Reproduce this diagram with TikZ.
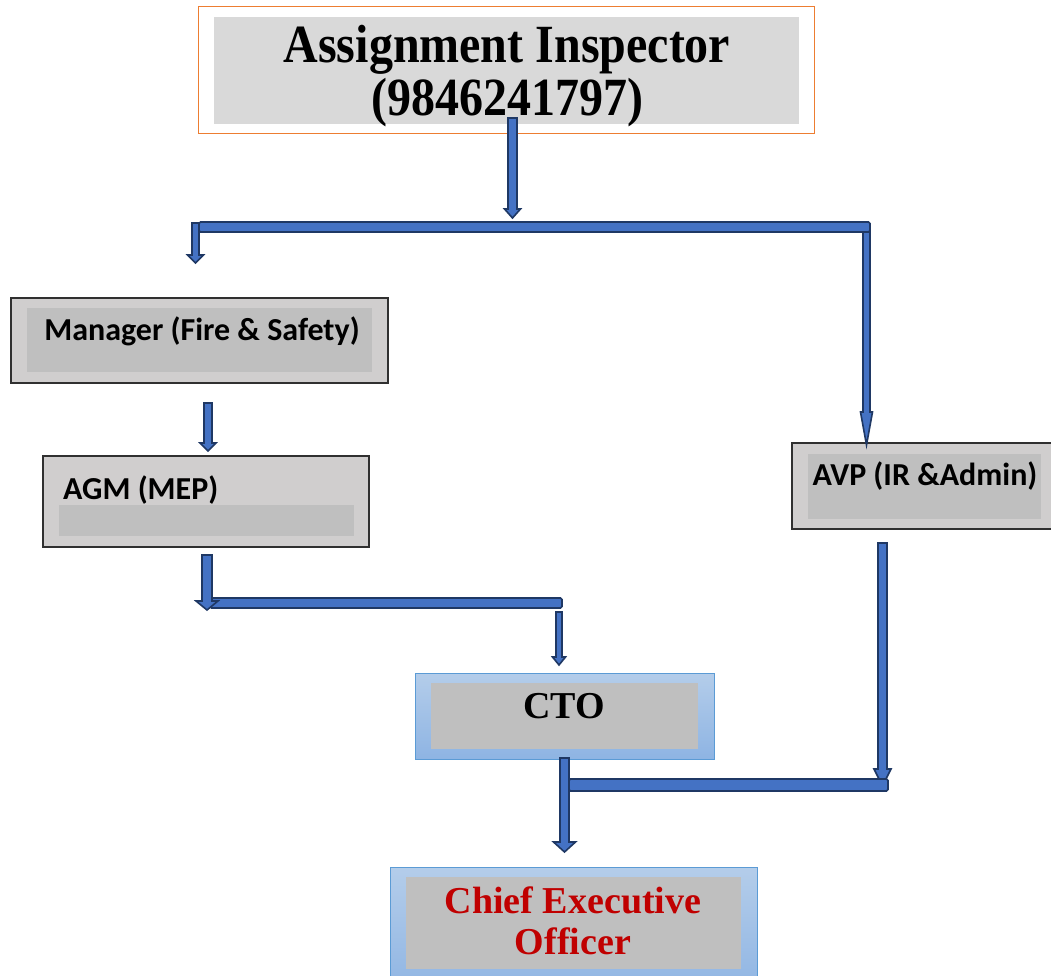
\documentclass[tikz,border=0pt]{standalone}
\usepackage{fontspec}
\setmainfont{Liberation Serif}
\newfontfamily\calfont{Carlito}
\usetikzlibrary{calc}
\definecolor{arrfill}{HTML}{4472C4}
\definecolor{arrline}{HTML}{1F3864}
\definecolor{boxfill}{HTML}{D0CECE}
\definecolor{boxline}{HTML}{303030}
\definecolor{innerfill}{HTML}{BFBFBF}
\definecolor{topinner}{HTML}{D9D9D9}
\definecolor{orangeline}{HTML}{ED7D31}
\definecolor{blueTop}{HTML}{B4CDEA}
\definecolor{blueBot}{HTML}{8EB4E3}
\definecolor{blueline}{HTML}{5B9BD5}
\definecolor{ceored}{HTML}{C00000}
\tikzset{
  arrowblk/.style={fill=arrfill, draw=arrline, line width=1.6pt, line join=miter},
  barblk/.style={fill=arrfill, draw=arrline, line width=1.6pt, rounded corners=1.5pt},
  graybox/.style={draw=boxline, line width=1.2pt, fill=boxfill, inner sep=0pt},
  innergray/.style={fill=innerfill, inner sep=0pt},
  bluebox/.style={draw=blueline, line width=1pt, top color=blueTop, bottom color=blueBot, inner sep=0pt},
  serifbig/.style={font=\fontsize{48}{52}\selectfont\bfseries, inner sep=0pt},
  serifmid/.style={font=\fontsize{38}{41}\selectfont\bfseries, inner sep=0pt},
  sanslab/.style={font=\calfont\fontsize{32}{36}\selectfont\bfseries, inner sep=0pt},
}
\newcommand\vblk[5]{%
  \filldraw[arrowblk] let \p1=(#1), \p2=(#2) in
   ({\x1-#3pt/2},\y1) -- ({\x1+#3pt/2},\y1) -- ({\x1+#3pt/2},{\y2+#5pt}) --
   ({\x1+#4pt/2},{\y2+#5pt}) -- (\x1,\y2) -- ({\x1-#4pt/2},{\y2+#5pt}) --
   ({\x1-#3pt/2},{\y2+#5pt}) -- cycle;}
\begin{document}
\begin{tikzpicture}[x=1pt,y=-1pt]
\useasboundingbox (0,0) rectangle (1051,976);
\clip (0,0) rectangle (1051,976);
% top box
\node[draw=orangeline, line width=1pt, minimum width=616pt, minimum height=127pt, inner sep=0pt] (topout) at (506,70.5) {};
\node[fill=topinner, minimum width=585pt, minimum height=107pt, inner sep=0pt] (topin) at (506.5,70.5) {};
\node[serifbig, anchor=base] (topl1) at (507,63) {\scalebox{1}[1.12]{Assignment Inspector}};
\node[serifbig, anchor=base] (topl2) at (507,116) {\scalebox{1}[1.12]{(9846241797)}};
% manager
\node[graybox, minimum width=377pt, minimum height=85pt] (mgr) at (199.5,340.5) {};
\node[innergray, minimum width=345pt, minimum height=64pt] (mgrin) at (199.5,340) {};
\node[sanslab, anchor=base] (mgrt) at (202,340) {Manager (Fire \& Safety)};
% AGM
\node[graybox, minimum width=326pt, minimum height=91pt] (agm) at (206,501.5) {};
\node[innergray, minimum width=295pt, minimum height=31pt] (agmin) at (206.5,520.5) {};
\node[sanslab, anchor=base west] (agmt) at (63,499) {AGM (MEP)};
% AVP
\node[graybox, minimum width=268pt, minimum height=86pt] (avp) at (926,486) {};
\node[innergray, minimum width=233pt, minimum height=65pt] (avpin) at (924.5,486.5) {};
\node[sanslab, anchor=base] (avpt) at (925,485) {AVP (IR \&Admin)};
% CTO
\node[bluebox, minimum width=299pt, minimum height=86pt] (cto) at (564.5,716) {};
\node[innergray, minimum width=267pt, minimum height=66pt] (ctoin) at (564.5,716) {};
\node[serifmid, anchor=base] (ctot) at (564,718) {CTO};
% CEO
\node[bluebox, minimum width=367pt, minimum height=130pt] (ceo) at (573.5,932) {};
\node[innergray, minimum width=335pt, minimum height=92pt] (ceoin) at (573.5,923) {};
\node[serifmid, anchor=base, text=ceored] (ceol1) at (573,913) {Chief Executive};
\node[serifmid, anchor=base, text=ceored] (ceol2) at (573,954) {Officer};
% connector coordinates
\coordinate (a1s) at (512.5,118); \coordinate (a1e) at (512.5,218);
\coordinate (a2s) at (195.5,223); \coordinate (a2e) at (195.5,263);
\coordinate (a3s) at (866.5,227); \coordinate (a3e) at (866.5,445);
\coordinate (a4s) at (208,403);   \coordinate (a4e) at (208,451);
\coordinate (a5s) at (207,555);   \coordinate (a5e) at (207,610);
\coordinate (a6s) at (559,612);   \coordinate (a6e) at (559,665);
\coordinate (a7s) at (882.5,543); \coordinate (a7e) at (882.5,786);
\coordinate (a8s) at (564.5,758); \coordinate (a8e) at (564.5,852);
% connectors
\vblk{a1s}{a1e}{9}{16}{9}
\vblk{a2s}{a2e}{7}{16}{8}
\vblk{a3s}{a3e}{7}{12}{33}
\filldraw[barblk] (199,222) rectangle (870,232);
\vblk{a4s}{a4e}{8}{16}{8}
\filldraw[barblk] (210,598) rectangle (562,608);
\vblk{a5s}{a5e}{10}{22}{9}
\vblk{a6s}{a6e}{6}{13}{8}
\vblk{a7s}{a7e}{9}{17}{17}
\filldraw[barblk] (569,779) rectangle (888,791);
\vblk{a8s}{a8e}{9}{22}{10}
\end{tikzpicture}
\end{document}
